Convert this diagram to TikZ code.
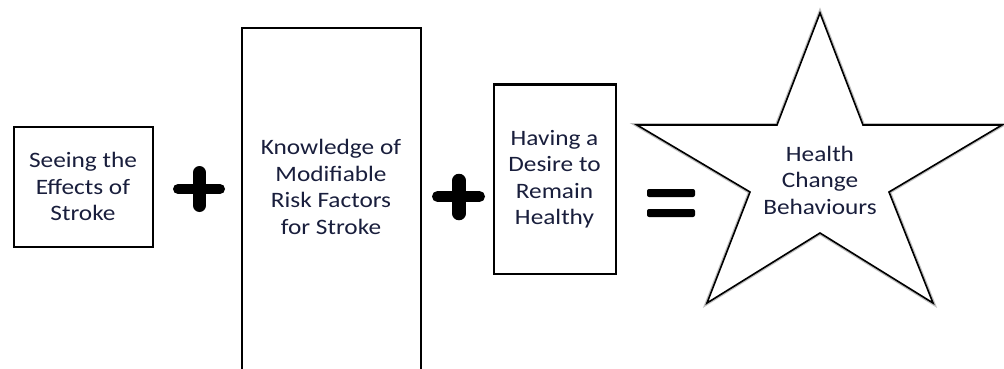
\documentclass[tikz,border=0pt]{standalone}
\usepackage{fontspec}
\setmainfont{Carlito}[FakeStretch=1.15]
\definecolor{textblue}{RGB}{25,30,60}
\tikzset{
  box/.style={draw, line width=2pt, fill=white},
  txt/.style={align=center, font=\fontsize{22}{26.5}\selectfont, text=textblue},
  opbar/.style={line width=11pt, line cap=round},
}

\begin{document}
\begin{tikzpicture}[x=1pt,y=-1pt]
  \clip (0,0) rectangle (1004,369);
  \fill[white] (0,0) rectangle (1004,369);

  % the three boxes
  \node (seeing) [box, txt, minimum width=139pt, minimum height=120pt] at (83,186.5) {Seeing the\\Effects of\\Stroke};
  \node (know) [box, minimum width=179pt, minimum height=352pt,
    label={[txt, yshift=17pt]center:{Knowledge of\\Modifiable\\Risk Factors\\for Stroke}}] at (331,204) {};
  \node (desire) [box, txt, minimum width=122pt, minimum height=189pt] at (554.5,179) {Having a\\Desire to\\Remain\\Healthy};

  % plus and equals signs
  \draw[opbar, line width=10pt] (178,189) -- (220,189);
  \draw[opbar, line width=13pt] (199.5,172.5) -- (199.5,205.5);
  \draw[opbar] (437.5,196.5) -- (479.5,196.5);
  \draw[opbar, line width=13.5pt] (459,180.5) -- (459,213.5);
  \fill[rounded corners=2pt] (647,189) rectangle (695,197);
  \fill[rounded corners=2pt] (647,209) rectangle (695,217);

  % the star
  \coordinate (top) at (820,13);
  \coordinate (in1) at (863,125);
  \coordinate (tipr) at (1002,125);
  \coordinate (in2) at (889,192);
  \coordinate (tipbr) at (933,303);
  \coordinate (in3) at (820,233);
  \coordinate (tipbl) at (707,303);
  \coordinate (in4) at (750,192);
  \coordinate (tipl) at (637,125);
  \coordinate (in5) at (777,125);
  \draw[line width=4pt, black!25, line join=miter]
    (top) -- (in1) -- (tipr) -- (in2) -- (tipbr) -- (in3) -- (tipbl) -- (in4) -- (tipl) -- (in5) -- cycle;
  \draw[line width=1.6pt, fill=white]
    (top) -- (in1) -- (tipr) -- (in2) -- (tipbr) -- (in3) -- (tipbl) -- (in4) -- (tipl) -- (in5) -- cycle;
  \node (health) [txt] at (820,180) {Health\\Change\\Behaviours};
\end{tikzpicture}
\end{document}
